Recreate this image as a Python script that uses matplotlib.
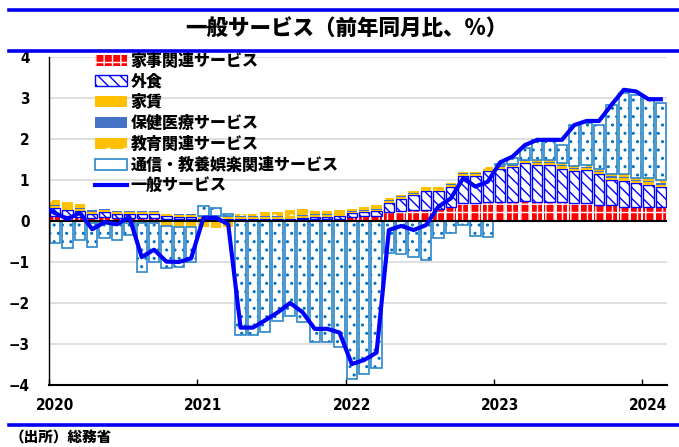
import matplotlib
matplotlib.use("Agg")
import matplotlib.pyplot as plt
from matplotlib.patches import Patch
from matplotlib.lines import Line2D
import numpy as np

plt.rcParams['font.family'] = ['Noto Sans CJK JP', 'DejaVu Sans']
plt.rcParams['font.weight'] = 'heavy'
plt.rcParams['hatch.linewidth'] = 1.0

title = "一般サービス（前年同月比、%）"
source = "（出所）総務省"
year_labels = ["2020", "2021", "2022", "2023", "2024"]
series_names = ["家事関連サービス", "外食", "家賃", "保健医療サービス",
                "教育関連サービス", "通信・教養娯楽関連サービス"]
line_name = "一般サービス"

# monthly contributions, Jan 2020 - Feb 2024
kaji = [0.13, 0.12, 0.10, 0.08, 0.09, 0.08, 0.08, 0.08, 0.08, 0.05, 0.04, 0.04,
        0.03, 0.03, 0.03, 0.02, 0.02, 0.02, 0.03, 0.03, 0.04, 0.05, 0.05, 0.06,
        0.10, 0.11, 0.12, 0.23, 0.24, 0.28, 0.28, 0.30, 0.35, 0.43, 0.43, 0.47,
        0.47, 0.47, 0.49, 0.47, 0.47, 0.47, 0.43, 0.43, 0.39, 0.39, 0.35, 0.35,
        0.33, 0.33]
gaishoku = [0.18, 0.16, 0.14, 0.10, 0.12, 0.09, 0.09, 0.09, 0.09, 0.06, 0.05, 0.05,
            0.01, 0.01, 0.02, 0.02, 0.02, 0.02, 0.02, 0.03, 0.03, 0.04, 0.05, 0.05,
            0.09, 0.10, 0.12, 0.22, 0.30, 0.35, 0.45, 0.43, 0.49, 0.67, 0.67, 0.75,
            0.80, 0.84, 0.93, 0.89, 0.89, 0.81, 0.80, 0.81, 0.76, 0.61, 0.63, 0.57,
            0.55, 0.49]
yachin = [0.05, 0.05, 0.05, 0.05, 0.05, 0.05, 0.05, 0.05, 0.05, 0.05, 0.05, 0.05,
          0.05, 0.05, 0.05, 0.05, 0.05, 0.05, 0.05, 0.05, 0.05, 0.05, 0.05, 0.05,
          0.04, 0.04, 0.04, 0.04, 0.04, 0.04, 0.04, 0.04, 0.04, 0.04, 0.04, 0.04,
          0.04, 0.04, 0.04, 0.05, 0.05, 0.05, 0.05, 0.05, 0.05, 0.06, 0.06, 0.05,
          0.06, 0.06]
hoken = [0.02, 0.02, 0.02, 0.03, 0.03, 0.02, 0.02, 0.02, 0.02, 0.02, 0.02, 0.02,
         0.02, 0.02, 0.02, 0.02, 0.02, 0.02, 0.02, 0.02, 0.02, 0.02, 0.02, 0.02,
         0.02, 0.02, 0.02, 0.02, 0.02, 0.02, 0.02, 0.02, 0.02, 0.02, 0.02, 0.02,
         0.02, 0.02, 0.02, 0.03, 0.03, 0.03, 0.02, 0.02, 0.03, 0.03, 0.04, 0.03,
         0.04, 0.04]
kyoiku = [0.13, 0.12, 0.10, -0.04, -0.04, -0.04, -0.04, -0.04, -0.04, -0.12, -0.14, -0.14,
          -0.14, -0.16, -0.14, 0.06, 0.06, 0.10, 0.09, 0.15, 0.15, 0.09, 0.08, 0.09,
          0.05, 0.06, 0.08, 0.04, 0.04, 0.04, 0.03, 0.03, 0.03, 0.04, 0.04, 0.04,
          0.03, 0.02, 0.01, 0.05, 0.05, 0.05, 0.03, 0.05, 0.05, 0.06, 0.07, 0.04,
          0.06, 0.08]
tsushin = [-0.54, -0.67, -0.46, -0.60, -0.37, -0.42, -0.29, -1.21, -0.95, -1.02, -0.97, -0.85,
           0.26, 0.20, 0.05, -2.78, -2.78, -2.70, -2.43, -2.32, -2.46, -2.96, -2.96, -3.07,
           -3.86, -3.73, -3.58, -0.79, -0.80, -0.89, -0.95, -0.42, -0.30, -0.10, -0.37, -0.40,
           0.03, 0.14, 0.28, 0.49, 0.49, 0.44, 1.00, 1.02, 1.06, 1.68, 1.96, 2.03,
           1.95, 1.87]
# general services line (first value: Dec 2019)
general = [0.35,
           0.19, 0.05, 0.20, -0.20, -0.03, -0.08, 0.10, -0.88, -0.70, -0.99, -1.00, -0.91,
           0.08, 0.08, -0.08, -2.60, -2.60, -2.42, -2.23, -2.00, -2.22, -2.63, -2.63, -2.72,
           -3.49, -3.39, -3.21, -0.22, -0.12, -0.22, -0.10, 0.35, 0.55, 1.04, 0.84, 0.96,
           1.43, 1.57, 1.85, 1.98, 1.98, 1.98, 2.34, 2.44, 2.44, 2.83, 3.20, 3.16,
           2.97, 2.97]

W, H = 679, 447
fig = plt.figure(figsize=(W / 100, H / 100), dpi=100)
ax = fig.add_axes([49 / W, 1 - 385 / H, (667 - 49) / W, (385 - 57) / H])

n = len(kaji)
x = np.arange(n) + 0.5
bw = 0.84
pos_base = np.zeros(n)
neg_base = np.zeros(n)

RED = '#FF0000'
BLUE = '#0000FF'
GOLD = '#FFC000'
MED = '#4472C4'
TEAL = '#2E86C9'
DOT = '#0070C0'


def stack(vals):
    v = np.asarray(vals, dtype=float)
    b = np.where(v >= 0, pos_base, neg_base)
    pos_base[:] = pos_base + np.where(v >= 0, v, 0)
    neg_base[:] = neg_base + np.where(v < 0, v, 0)
    return v, b


v, b = stack(kaji)
ax.bar(x, v, bw, bottom=b, color=RED, edgecolor='white', linewidth=0, hatch='++', zorder=2)
v, b = stack(gaishoku)
ax.bar(x, v, bw, bottom=b, color='white', edgecolor=BLUE, linewidth=0, hatch='\\\\\\', zorder=2)
ax.bar(x, v, bw, bottom=b, fill=False, edgecolor=BLUE, linewidth=1.0, zorder=2)
v, b = stack(yachin)
ax.bar(x, v, bw, bottom=b, color=GOLD, linewidth=0, zorder=2)
v, b = stack(hoken)
ax.bar(x, v, bw, bottom=b, color=MED, linewidth=0, zorder=2)
v, b = stack(kyoiku)
ax.bar(x, v, bw, bottom=b, color=GOLD, edgecolor='white', linewidth=0, hatch='.', zorder=2)
v, b = stack(tsushin)
ax.bar(x, v, bw, bottom=b, color='white', edgecolor=DOT, linewidth=0, hatch='..', zorder=2)
ax.bar(x, v, bw, bottom=b, fill=False, edgecolor=TEAL, linewidth=1.2, zorder=2)

xl = np.arange(len(general)) - 0.5
ax.plot(xl, general, color=BLUE, lw=3.0, zorder=5, solid_joinstyle='round')
ax.axhline(0, color='black', lw=1.5, zorder=4)

numfont = dict(family='DejaVu Sans', stretch='condensed', fontsize=11, fontweight='bold')
ax.set_xlim(0, 50)
ax.set_ylim(-4, 4)
ax.set_yticks(range(-4, 5))
ax.set_yticklabels([str(t).replace('-', '−') for t in range(-4, 5)], **numfont)
ax.tick_params(axis='y', length=0, pad=14)
ax.set_xticks([0, 12, 24, 36, 48])
ax.set_xticklabels([])
ax.set_xticks([0.5, 12.5, 24.5, 36.5, 48.5], minor=True)
ax.set_xticklabels(year_labels, minor=True, **numfont)
ax.tick_params(axis='x', which='major', direction='in', length=4, width=1)
ax.tick_params(axis='x', which='minor', length=0, pad=9)
ax.grid(axis='y', color='#D9D9D9', lw=1.2, zorder=0)
ax.set_axisbelow(True)
for s in ['top', 'right']:
    ax.spines[s].set_visible(False)
ax.spines['left'].set_linewidth(1.0)
ax.spines['bottom'].set_linewidth(1.5)

handles = [
    Patch(facecolor=RED, edgecolor='white', hatch='++', linewidth=0),
    Patch(facecolor='white', edgecolor=BLUE, hatch='\\\\\\', linewidth=1.0),
    Patch(facecolor=GOLD, edgecolor=GOLD, linewidth=0),
    Patch(facecolor=MED, edgecolor=MED, linewidth=0),
    Patch(facecolor=GOLD, edgecolor='white', hatch='.', linewidth=0),
    Patch(facecolor='white', edgecolor=TEAL, linewidth=1.2),
    Line2D([], [], color=BLUE, lw=3.0),
]
labels = series_names + [line_name]
leg = ax.legend(handles, labels, loc='upper left', bbox_to_anchor=(0.074, 1.012), frameon=False,
                fontsize=11.5, handlelength=2.0, handleheight=0.7, labelspacing=0.3,
                handletextpad=0.25, borderpad=0, borderaxespad=0)
for t in leg.get_texts():
    t.set_fontweight('heavy')

# decorations: title and blue rules
for yy in [9.5, 50.5, 425]:
    fig.add_artist(Line2D([9 / W, 1], [1 - yy / H, 1 - yy / H], color='#0000F0', lw=2.6,
                          transform=fig.transFigure))
fig.text(346 / W, 1 - 29 / H, title, ha='center', va='center', fontsize=15.5, fontweight='heavy')
fig.text(10 / W, 1 - 438 / H, source, ha='left', va='center', fontsize=10.5, fontweight='heavy')

fig.savefig("out.png", dpi=100)
